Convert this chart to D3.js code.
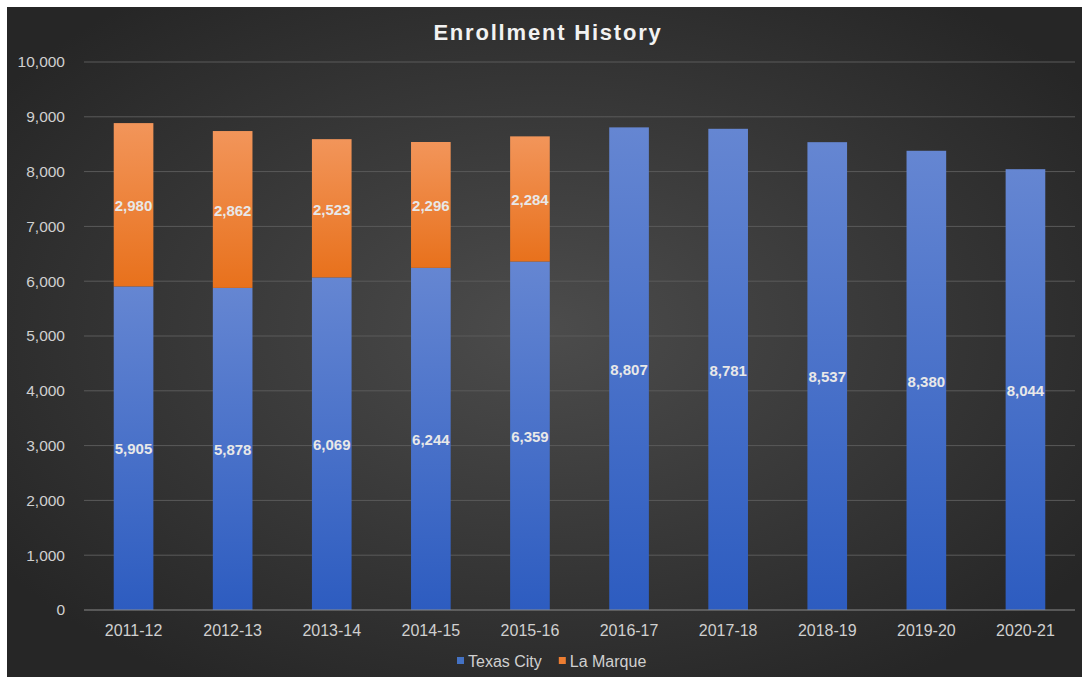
<!DOCTYPE html>
<html>
<head>
<meta charset="utf-8">
<script src="https://cdn.jsdelivr.net/npm/d3@7"></script>
<style>
  html, body { margin: 0; padding: 0; background: #fff; }
  svg { display: block; font-family: "Liberation Sans", Arial, sans-serif; }
</style>
</head>
<body>
<svg id="chart" width="1082" height="677"></svg>
<script>
const years = ["2011-12", "2012-13", "2013-14", "2014-15", "2015-16",
               "2016-17", "2017-18", "2018-19", "2019-20", "2020-21"];
const texasCity = [5905, 5878, 6069, 6244, 6359, 8807, 8781, 8537, 8380, 8044];
const laMarque = [2980, 2862, 2523, 2296, 2284, 0, 0, 0, 0, 0];
const seriesNames = ["Texas City", "La Marque"];
const yTicks = [0, 1000, 2000, 3000, 4000, 5000, 6000, 7000, 8000, 9000, 10000];

const W = 1082, H = 677;
const margin = { top: 62, right: 7, bottom: 67, left: 84 };
const svg = d3.select("#chart");
const defs = svg.append("defs");

// background with radial shading
const bg = defs.append("radialGradient").attr("id", "bg")
  .attr("cx", "50%").attr("cy", "48%").attr("r", "62%");
bg.append("stop").attr("offset", "0%").attr("stop-color", "#4c4c4c");
bg.append("stop").attr("offset", "100%").attr("stop-color", "#262626");

function barGrad(id, top, bottom) {
  const g = defs.append("linearGradient").attr("id", id)
    .attr("x1", 0).attr("y1", 0).attr("x2", 0).attr("y2", 1);
  g.append("stop").attr("offset", "0%").attr("stop-color", top);
  g.append("stop").attr("offset", "100%").attr("stop-color", bottom);
}
barGrad("blueGrad", "#6586d2", "#2d5cc0");
barGrad("orangeGrad", "#f2955a", "#e8711c");

svg.append("rect").attr("x", 7).attr("y", 7)
  .attr("width", W - 7).attr("height", H - 7)
  .attr("fill", "url(#bg)");

const x = d3.scaleBand().domain(years)
  .range([margin.left, W - margin.right])
  .paddingInner(0.6).paddingOuter(0.3);
const y = d3.scaleLinear().domain([0, 10000])
  .range([H - margin.bottom, margin.top]);

// gridlines
svg.append("g").selectAll("line").data(yTicks.filter(d => d > 0)).join("line")
  .attr("x1", margin.left).attr("x2", W - margin.right)
  .attr("y1", d => y(d)).attr("y2", d => y(d))
  .attr("stroke", "#5a5a5a").attr("stroke-width", 1);

// y axis labels
const yAxis = svg.append("g")
  .attr("transform", `translate(${margin.left - 16},0)`)
  .call(d3.axisLeft(y).tickValues(yTicks).tickFormat(d3.format(",")).tickSize(0));
yAxis.select(".domain").remove();
yAxis.selectAll("text").attr("fill", "#d0d0d0").attr("font-size", 15.5)
  .attr("font-family", "Liberation Sans, Arial, sans-serif");

// stacked bars
const rows = years.map((yr, i) => ({ year: yr, "Texas City": texasCity[i], "La Marque": laMarque[i] }));
const stacked = d3.stack().keys(seriesNames)(rows);
const fills = { "Texas City": "url(#blueGrad)", "La Marque": "url(#orangeGrad)" };

stacked.forEach(layer => {
  const g = svg.append("g");
  g.selectAll("rect").data(layer.filter(d => d[1] > d[0])).join("rect")
    .attr("x", d => x(d.data.year))
    .attr("width", x.bandwidth())
    .attr("y", d => y(d[1]))
    .attr("height", d => y(d[0]) - y(d[1]))
    .attr("fill", fills[layer.key]);
  g.selectAll("text").data(layer.filter(d => d[1] > d[0])).join("text")
    .attr("x", d => x(d.data.year) + x.bandwidth() / 2)
    .attr("y", d => (y(d[0]) + y(d[1])) / 2 + 1)
    .attr("dy", "0.35em")
    .attr("text-anchor", "middle")
    .attr("font-size", 15).attr("font-weight", "bold")
    .attr("fill", "#e8e8e8")
    .text(d => d3.format(",")(d[1] - d[0]));
});

// baseline
svg.append("line")
  .attr("x1", margin.left).attr("x2", W - margin.right)
  .attr("y1", y(0)).attr("y2", y(0))
  .attr("stroke", "#8a8a8a").attr("stroke-width", 1);

// x axis labels
const xAxis = svg.append("g")
  .attr("transform", `translate(0,${y(0) + 12})`)
  .call(d3.axisBottom(x).tickSize(0));
xAxis.select(".domain").remove();
xAxis.selectAll("text").attr("fill", "#d0d0d0").attr("font-size", 16)
  .attr("font-family", "Liberation Sans, Arial, sans-serif");

// title
svg.append("text").attr("x", 548).attr("y", 40)
  .attr("text-anchor", "middle")
  .attr("font-size", 22).attr("font-weight", "bold")
  .attr("letter-spacing", 1.8)
  .attr("fill", "#f2f2f2")
  .text("Enrollment History");

// legend
const legendColors = { "Texas City": "#4472c4", "La Marque": "#ed7d31" };
const legend = svg.append("g").attr("transform", "translate(457,661)");
let lx = 0;
seriesNames.forEach(name => {
  legend.append("rect").attr("x", lx).attr("y", -4).attr("width", 7).attr("height", 7)
    .attr("fill", legendColors[name]);
  const t = legend.append("text").attr("x", lx + 11).attr("y", 0).attr("dy", "0.35em")
    .attr("font-size", 16).attr("fill", "#d0d0d0").text(name);
  lx += 11 + t.node().getComputedTextLength() + 17;
});
</script>
</body>
</html>
